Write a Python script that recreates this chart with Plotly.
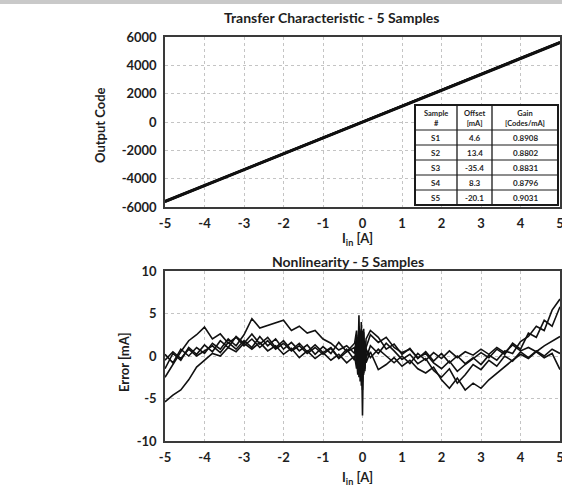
import plotly.graph_objects as go

# ---------------- data ----------------
SAMPLES = ["S1", "S2", "S3", "S4", "S5"]
OFFSET_MA = ["4.6", "13.4", "-35.4", "8.3", "-20.1"]
GAIN = ["0.8908", "0.8802", "0.8831", "0.8796", "0.9031"]
TABLE_HEADER = ["Sample<br>#", "Offset<br>[mA]", "Gain<br>[Codes/mA]"]

# Transfer characteristic: current [A] vs output code (end points per sample)
X_TRANSFER = [-5, 5]
TRANSFER_S1 = [-5610, 5600]
TRANSFER_S2 = [-5580, 5620]
TRANSFER_S3 = [-5640, 5570]
TRANSFER_S4 = [-5590, 5610]
TRANSFER_S5 = [-5620, 5650]

# Nonlinearity: current [A] vs error [mA]
X_ERR = [-5.0, -4.8, -4.6, -4.4, -4.2, -4.0, -3.8, -3.6, -3.4, -3.2, -3.0, -2.8, -2.6,
         -2.4, -2.2, -2.0, -1.8, -1.6, -1.4, -1.2, -1.0, -0.8, -0.6, -0.4, -0.2,
         -0.15, -0.12, -0.09, -0.06, -0.03, 0.0, 0.03, 0.06, 0.09,
         0.2, 0.4, 0.6, 0.8, 1.0, 1.2, 1.4, 1.6, 1.8, 2.0, 2.2, 2.4, 2.6, 2.8, 3.0,
         3.2, 3.4, 3.6, 3.8, 4.0, 4.2, 4.4, 4.6, 4.8, 5.0]

ERR_S1 = [-2.5, -1.0, 0.5, 1.8, 2.5, 3.4, 2.0, 2.6, 1.5, 2.2, 1.2, 2.0, 1.0,
          1.8, 0.8, 1.5, 0.6, 1.2, 0.3, 1.0, 0.2, 0.9, -0.3, 0.5, 1.5,
          3.0, -2.0, 4.8, -3.0, 2.5, -7.0, 3.2, -1.5, 2.0,
          3.0, 2.2, 0.8, 1.4, 0.2, 0.9, -0.3, 0.5, -0.6, 0.3, -0.8, 0.0, -0.9, -0.2, -1.0,
          0.1, -0.5, 0.6, 0.3, 1.7, 2.3, 3.5, 3.0, 5.4, 6.7]
ERR_S2 = [-5.4, -4.6, -4.0, -2.8, -1.3, -0.5, 0.3, 0.0, 1.0, 0.5, 1.5, 0.8, 1.6,
          0.6, 1.2, 0.2, 0.9, -0.2, 0.6, -0.3, 0.4, -0.5, 0.2, -0.8, 0.0,
          -1.5, 2.0, -2.5, 3.0, -3.5, 2.5, -2.0, 1.8, -0.8,
          0.5, -1.6, -1.0, -0.2, -1.2, -0.5, -1.5, -2.0, -1.3, -2.8, -3.8, -2.6, -4.0, -3.2, -3.8,
          -2.8, -2.0, -1.2, -0.5, 0.2, -0.3, 0.5, -0.2, 0.3, -1.6]
ERR_S3 = [0.2, -0.8, 0.8, 0.0, 1.0, 0.3, 1.5, 0.8, 2.0, 1.2, 2.5, 4.4, 3.3,
          3.6, 3.9, 4.2, 3.0, 3.5, 2.7, 3.0, 2.0, 1.5, 0.7, 1.2, 0.3,
          2.5, -1.0, 3.5, -2.5, 4.0, -4.0, 2.8, -1.8, 1.0,
          2.5, 1.6, 2.2, 1.0, 0.4, 0.8, -0.2, 0.3, -0.8, -1.5, -0.6, -1.8, -1.0, -0.3, 0.4,
          -0.2, 0.8, 0.2, 1.5, 0.8, 2.7, 2.2, 4.2, 3.5, 5.8]
ERR_S4 = [-1.5, 0.3, -0.5, 1.0, 0.2, 1.3, 0.5, 1.8, 1.0, 2.3, 1.5, 2.6, 1.4,
          2.2, 1.0, 1.8, 0.7, 1.5, 0.5, 1.3, 0.4, 1.0, -0.2, 0.8, -0.5,
          1.5, -2.2, 2.8, -1.5, 3.2, -3.0, 1.8, -1.0, 0.8,
          -0.2, 0.8, 0.0, -0.8, 0.0, -0.9, 0.3, -0.5, 0.4, -0.3, 0.6, -0.2, 0.5, 0.1, 0.8,
          0.2, 1.0, 0.4, 1.3, 0.6, 1.0, 0.5, 1.2, 1.8, 2.3]
ERR_S5 = [-0.5, 0.5, -0.3, 0.8, 0.0, 0.6, 1.2, 0.4, 1.6, 0.8, 1.8, 1.0, 2.3,
          1.2, 2.0, 0.8, 1.6, 0.6, 1.3, 0.2, 1.1, 0.3, 1.6, 0.5, 1.0,
          -0.5, 2.2, -2.0, 2.5, -2.8, 3.0, -2.2, 1.5, -0.3,
          1.2, 0.3, 1.5, 0.6, -0.4, 0.2, -0.9, -0.3, -1.7, -2.5, -1.5, -3.2, -2.2, -1.0, -1.6,
          -0.5, -1.2, 0.0, -0.6, 0.5, -0.2, 0.6, 0.0, 0.8, 0.3]

X_TICKS = [-5, -4, -3, -2, -1, 0, 1, 2, 3, 4, 5]
X_TICK_TEXT = ["-5", "-4", "-3", "-2", "-1", "0", "1", "2", "3", "4", "5"]
Y1_TICKS = [-6000, -4000, -2000, 0, 2000, 4000, 6000]
Y1_TICK_TEXT = ["-6000", "-4000", "-2000", "0", "2000", "4000", "6000"]
Y2_TICKS = [-10, -5, 0, 5, 10]
Y2_TICK_TEXT = ["-10", "-5", "0", "5", "10"]

TRANSFER = [TRANSFER_S1, TRANSFER_S2, TRANSFER_S3, TRANSFER_S4, TRANSFER_S5]
ERRORS = [ERR_S1, ERR_S2, ERR_S3, ERR_S4, ERR_S5]

# ---------------- figure ----------------
W, H = 562, 488
FONT = "Lato"
INK = "#1e1e1e"
FRAME = "#3a3a3a"
GRID = "#c4c4c4"

fig = go.Figure()

for name, ys in zip(SAMPLES, TRANSFER):
    fig.add_trace(go.Scatter(x=X_TRANSFER, y=ys, mode="lines", name=name,
                             line=dict(color="#111111", width=2.2),
                             xaxis="x", yaxis="y", showlegend=False))

for name, ys in zip(SAMPLES, ERRORS):
    fig.add_trace(go.Scatter(x=X_ERR, y=ys, mode="lines", name=name,
                             line=dict(color="#111111", width=1.6),
                             xaxis="x2", yaxis="y2", showlegend=False))


def px_x(p):
    return p / W


def px_y(p):
    return 1 - p / H


axis_common = dict(
    showline=True, linecolor=FRAME, linewidth=1.5, mirror=True,
    showgrid=True, gridcolor=GRID, griddash="dot", gridwidth=1,
    zeroline=False,
    ticks="outside", ticklen=4, tickcolor="rgba(0,0,0,0)",
    tickfont=dict(family=FONT, size=13, color=INK),
    ticklabeloverflow="allow",
    automargin=False, fixedrange=True,
)

fig.update_layout(
    width=W, height=H,
    margin=dict(l=0, r=0, t=0, b=0),
    paper_bgcolor="white", plot_bgcolor="white",
    showlegend=False,
    font=dict(family=FONT, color=INK),
    xaxis=dict(domain=[px_x(165), px_x(560)], range=[-5, 5], tickvals=X_TICKS,
               ticktext=["<b>%s</b>" % t for t in X_TICK_TEXT], anchor="y", **axis_common),
    yaxis=dict(domain=[px_y(207), px_y(37)], range=[-6000, 6000], tickvals=Y1_TICKS,
               ticktext=["<b>%s</b>" % t for t in Y1_TICK_TEXT], anchor="x", **axis_common),
    xaxis2=dict(domain=[px_x(165), px_x(560)], range=[-5, 5], tickvals=X_TICKS,
                ticktext=["<b>%s</b>" % t for t in X_TICK_TEXT], anchor="y2", **axis_common),
    yaxis2=dict(domain=[px_y(441), px_y(271)], range=[-10, 10], tickvals=Y2_TICKS,
                ticktext=["<b>%s</b>" % t for t in Y2_TICK_TEXT], anchor="x2", **axis_common),
)

ann = []


def add_text(text, x, y, size, angle=0):
    ann.append(dict(text=text, x=px_x(x), y=px_y(y), xref="paper", yref="paper",
                    showarrow=False, textangle=angle, xanchor="center", yanchor="middle",
                    font=dict(family=FONT, size=size, color=INK)))


add_text("<b>Transfer Characteristic - 5 Samples</b>", 332, 17, 14)
add_text("<b>Nonlinearity - 5 Samples</b>", 348, 261, 14)
add_text("<b>Output Code</b>", 100, 125, 13, -90)
add_text("<b>Error [mA]</b>", 124, 362, 13, -90)
add_text("<b>I<sub>in</sub> [A]</b>", 357, 239, 13)
add_text("<b>I<sub>in</sub> [A]</b>", 357, 478, 13)

# ---- parameter table drawn with shapes + text ----
COL_EDGES = [415, 457, 492, 558]
ROW_EDGES = [105, 130, 145, 160, 175, 190, 205]
shapes = []
shapes.append(dict(type="rect", xref="paper", yref="paper",
                   x0=px_x(COL_EDGES[0]), x1=px_x(COL_EDGES[-1]),
                   y0=px_y(ROW_EDGES[-1]), y1=px_y(ROW_EDGES[0]),
                   fillcolor="white", line=dict(color="#1a1a1a", width=2), layer="above"))
for cx in COL_EDGES[1:-1]:
    shapes.append(dict(type="line", xref="paper", yref="paper",
                       x0=px_x(cx), x1=px_x(cx), y0=px_y(ROW_EDGES[-1]), y1=px_y(ROW_EDGES[0]),
                       line=dict(color="#1a1a1a", width=1.3), layer="above"))
for ry in ROW_EDGES[1:-1]:
    shapes.append(dict(type="line", xref="paper", yref="paper",
                       x0=px_x(COL_EDGES[0]), x1=px_x(COL_EDGES[-1]), y0=px_y(ry), y1=px_y(ry),
                       line=dict(color="#1a1a1a", width=1), layer="above"))

columns = [SAMPLES, OFFSET_MA, GAIN]
for ci in range(3):
    cx = (COL_EDGES[ci] + COL_EDGES[ci + 1]) / 2
    add_text("<b>%s</b>" % TABLE_HEADER[ci], cx, (ROW_EDGES[0] + ROW_EDGES[1]) / 2 + 0.5, 7.5)
    for ri, val in enumerate(columns[ci]):
        cy = (ROW_EDGES[ri + 1] + ROW_EDGES[ri + 2]) / 2 + 0.5
        add_text("<b>%s</b>" % val, cx, cy, 8)

# thin grey band at the very top of the picture
shapes.append(dict(type="rect", xref="paper", yref="paper", x0=0, x1=1, y0=px_y(4), y1=1,
                   fillcolor="#c9c9c9", line=dict(width=0), layer="below"))

fig.update_layout(annotations=ann, shapes=shapes)

fig.write_html("out.html", config={"displayModeBar": False},
               post_script="document.body.style.margin='0px';document.body.style.overflow='hidden';")
